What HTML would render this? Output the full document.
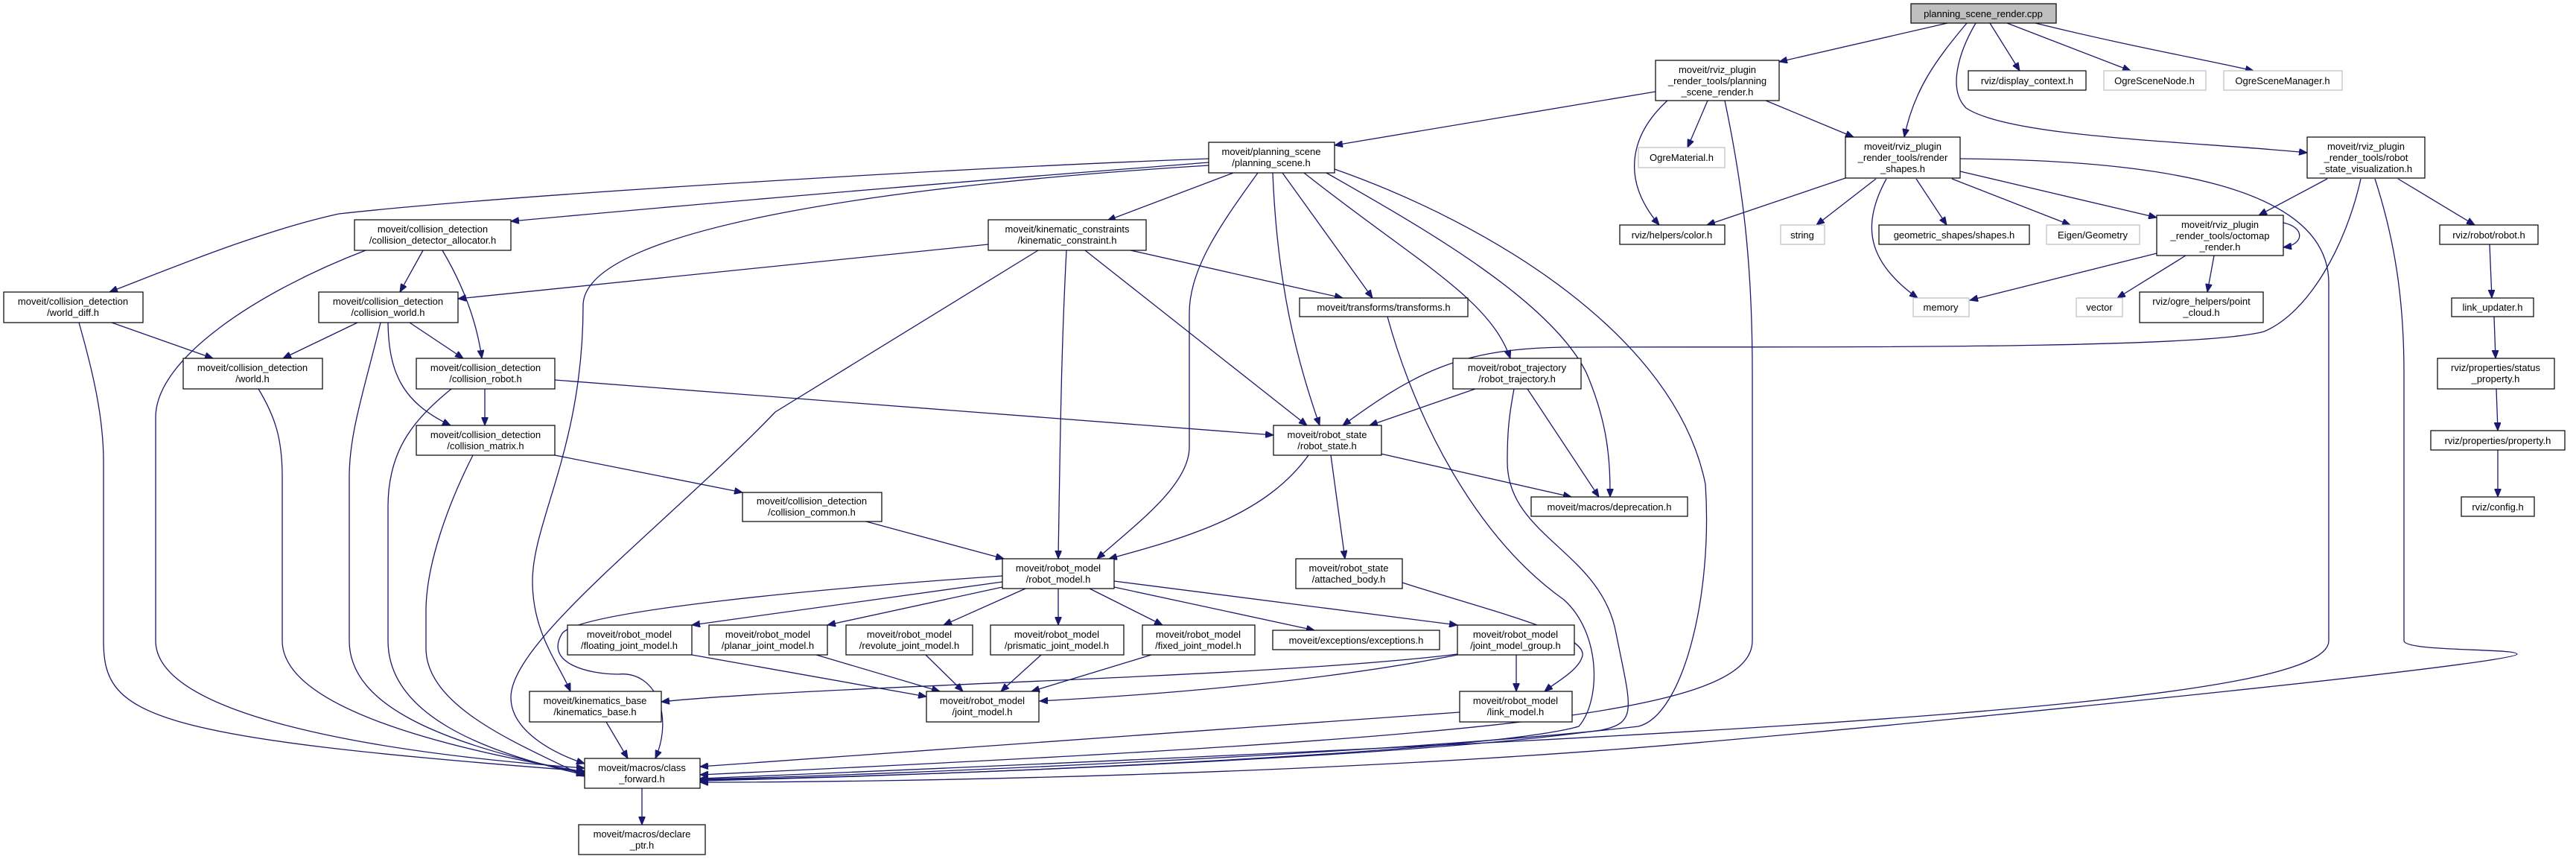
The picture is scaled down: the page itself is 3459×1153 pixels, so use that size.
<!DOCTYPE html>
<html><head><meta charset="utf-8"><style>
html,body{margin:0;padding:0;background:#fff;}
svg{display:block}
text{font-family:"Liberation Sans",sans-serif;font-size:13px;fill:#000;text-anchor:middle}
.n{fill:#fff;stroke:#000;stroke-width:1.2}
.g{fill:#fff;stroke:#bfbfbf;stroke-width:1.2}
.e{fill:none;stroke:#191970;stroke-width:1.3}
</style></head><body>
<svg width="3459" height="1153" viewBox="0 0 3459 1153" xmlns="http://www.w3.org/2000/svg">
<defs><marker id="a" markerUnits="userSpaceOnUse" markerWidth="12" markerHeight="9" refX="11" refY="4.5" orient="auto"><path d="M0,0 L11,4.5 L0,9 z" fill="#191970" stroke="#191970"/></marker></defs>
<g class="e" marker-end="url(#a)">
<path d="M2615,31 L2389,83"/>
<path d="M2641,31 C2600,80 2570,120 2557,184"/>
<path d="M2672,31 L2712,95"/>
<path d="M2695,31 L2861,95"/>
<path d="M2733,31 C2850,60 2960,80 3026,95"/>
<path d="M2653,31 C2630,70 2615,120 2640,145 C2700,185 2950,190 3098,205"/>
<path d="M2223,123 L1792,195"/>
<path d="M2293,135 L2266,198"/>
<path d="M2239,135 C2190,180 2175,240 2228,302"/>
<path d="M2371,135 L2489,184"/>
<path d="M2316,135 C2340,250 2353,350 2353,500 L2353,860 C2353,960 2000,990 940,1040"/>
<path d="M2478,239 L2292,302"/>
<path d="M2519,240 L2439,302"/>
<path d="M2533,240 C2500,300 2505,350 2575,400"/>
<path d="M2573,240 L2614,302"/>
<path d="M2621,240 L2780,302"/>
<path d="M2632,230 L2896,292"/>
<path d="M2632,213 C2900,215 3127,250 3127,380 L3127,860 C3127,940 2500,980 940,1045"/>
<path d="M3125,240 L3033,289"/>
<path d="M3170,240 C3150,330 3100,420 3040,445 C2950,470 2400,465 2100,466 C1960,468 1900,500 1803,571"/>
<path d="M3220,240 L3323,302"/>
<path d="M3189,240 C3215,320 3228,400 3228,500 L3228,860 C3228,875 3380,870 3380,878 C3380,890 2700,960 2300,995 C1800,1040 1200,1050 940,1050"/>
<path d="M3066,299 C3095,305 3095,328 3066,332"/>
<path d="M2896,340 L2645,403"/>
<path d="M2935,343 L2843,400"/>
<path d="M2973,343 L2964,392"/>
<path d="M3343,328 L3346,400"/>
<path d="M3349,425 L3351,481"/>
<path d="M3352,522 L3354,578"/>
<path d="M3354,604 L3354,667"/>
<path d="M1623,218 C1450,232 1200,250 686,297"/>
<path d="M1623,213 C1300,225 700,260 455,287 C350,310 230,360 147,392"/>
<path d="M1623,222 C1250,245 783,300 783,410 C783,600 715,700 715,780 C715,850 750,890 766,928"/>
<path d="M1656,232 L1487,296"/>
<path d="M1689,232 C1640,300 1597,360 1597,420 L1597,600 C1597,650 1530,700 1473,750"/>
<path d="M1709,232 C1715,380 1740,480 1772,571"/>
<path d="M1722,232 L1843,400"/>
<path d="M1751,232 C1900,350 2000,400 2028,481"/>
<path d="M1781,232 C1900,300 2080,400 2130,500 C2160,570 2162,620 2162,667"/>
<path d="M1792,227 C2000,300 2250,450 2290,650 C2300,800 2260,960 2200,975 C1900,1010 1200,1040 940,1046"/>
<path d="M568,336 L537,392"/>
<path d="M594,336 C620,380 640,430 647,481"/>
<path d="M491,336 C350,390 209,480 209,560 L209,860 C209,960 500,1010 785,1031"/>
<path d="M150,433 L286,481"/>
<path d="M106,433 C125,500 139,560 139,620 L139,860 C139,960 190,990 785,1035"/>
<path d="M480,433 L380,481"/>
<path d="M550,433 L622,481"/>
<path d="M521,433 C522,500 540,540 605,571"/>
<path d="M511,433 C490,520 469,580 469,640 L469,860 C469,950 600,1000 785,1038"/>
<path d="M347,522 C370,560 379,590 379,640 L379,860 C379,950 600,1005 785,1036"/>
<path d="M651,522 L651,571"/>
<path d="M745,510 L1710,584"/>
<path d="M606,522 C560,560 521,600 521,680 L521,860 C521,960 650,1010 785,1040"/>
<path d="M745,611 L997,661"/>
<path d="M635,611 C600,680 572,760 572,820 L572,870 C572,950 700,1000 785,1042"/>
<path d="M1163,700 L1348,750"/>
<path d="M1327,328 L615,401"/>
<path d="M1518,336 L1803,400"/>
<path d="M1457,336 L1755,571"/>
<path d="M1432,336 C1426,450 1424,550 1421,750"/>
<path d="M1394,336 L1041,553 C900,700 686,860 686,936 C686,980 740,1010 785,1025"/>
<path d="M1863,425 C1900,560 1980,720 2100,805 C2150,850 2150,940 2120,975 C2000,1010 1300,1040 940,1048"/>
<path d="M1981,522 L1839,571"/>
<path d="M2051,522 L2147,667"/>
<path d="M2033,522 C2026,560 2024,580 2024,620 C2024,720 2150,740 2170,850 C2190,950 2200,970 2150,980 C1900,1015 1300,1040 940,1047"/>
<path d="M1757,611 C1700,690 1600,720 1489,750"/>
<path d="M1787,611 L1806,750"/>
<path d="M1854,609 L2110,667"/>
<path d="M1883,782 C2000,820 2130,850 2125,880 C2120,900 2090,915 2074,928"/>
<path d="M1346,773 C1100,790 780,820 755,850 C730,890 790,905 830,905 C880,900 905,960 880,1018"/>
<path d="M1346,781 L929,839"/>
<path d="M1346,788 L1111,839"/>
<path d="M1377,790 L1267,839"/>
<path d="M1421,790 L1421,839"/>
<path d="M1463,790 L1561,839"/>
<path d="M1496,788 L1765,846"/>
<path d="M1496,780 L1957,839"/>
<path d="M929,879 L1244,935"/>
<path d="M1096,879 L1262,928"/>
<path d="M1243,879 L1293,928"/>
<path d="M1398,879 L1344,928"/>
<path d="M1546,879 L1385,928"/>
<path d="M1957,879 C1800,910 1600,930 1396,941"/>
<path d="M1957,878 C1700,910 1100,920 888,942"/>
<path d="M2036,879 L2036,928"/>
<path d="M1960,956 L940,1029"/>
<path d="M814,969 L843,1018"/>
<path d="M862,1058 L862,1107"/>
</g>
<rect x="2566" y="5" width="195" height="26" fill="#bfbfbf" stroke="#000" stroke-width="1.2"/><text x="2663" y="23">planning_scene_render.cpp</text>
<rect class="n" x="2223" y="81" width="166" height="54"/><text x="2306" y="98">moveit/rviz_plugin</text><text x="2306" y="113">_render_tools/planning</text><text x="2306" y="128">_scene_render.h</text>
<rect class="n" x="2478" y="184" width="154" height="55"/><text x="2555" y="201">moveit/rviz_plugin</text><text x="2555" y="216">_render_tools/render</text><text x="2555" y="231">_shapes.h</text>
<rect class="n" x="2643" y="95" width="158" height="26"/><text x="2722" y="113">rviz/display_context.h</text>
<rect class="g" x="2825" y="95" width="137" height="26"/><text x="2893" y="113">OgreSceneNode.h</text>
<rect class="g" x="2986" y="95" width="159" height="26"/><text x="3065" y="113">OgreSceneManager.h</text>
<rect class="n" x="3098" y="184" width="158" height="55"/><text x="3177" y="201">moveit/rviz_plugin</text><text x="3177" y="216">_render_tools/robot</text><text x="3177" y="231">_state_visualization.h</text>
<rect class="g" x="2200" y="198" width="116" height="27"/><text x="2258" y="216">OgreMaterial.h</text>
<rect class="n" x="2175" y="302" width="141" height="26"/><text x="2245" y="320">rviz/helpers/color.h</text>
<rect class="n" x="1623" y="191" width="169" height="41"/><text x="1707" y="208">moveit/planning_scene</text><text x="1707" y="223">/planning_scene.h</text>
<rect class="g" x="2391" y="302" width="59" height="26"/><text x="2420" y="320">string</text>
<rect class="n" x="2523" y="302" width="202" height="26"/><text x="2624" y="320">geometric_shapes/shapes.h</text>
<rect class="g" x="2748" y="302" width="125" height="26"/><text x="2810" y="320">Eigen/Geometry</text>
<rect class="n" x="2896" y="289" width="170" height="54"/><text x="2981" y="306">moveit/rviz_plugin</text><text x="2981" y="321">_render_tools/octomap</text><text x="2981" y="336">_render.h</text>
<rect class="n" x="3276" y="302" width="132" height="26"/><text x="3342" y="320">rviz/robot/robot.h</text>
<rect class="g" x="2569" y="400" width="75" height="25"/><text x="2606" y="417">memory</text>
<rect class="g" x="2788" y="400" width="62" height="25"/><text x="2819" y="417">vector</text>
<rect class="n" x="2873" y="392" width="166" height="41"/><text x="2956" y="409">rviz/ogre_helpers/point</text><text x="2956" y="424">_cloud.h</text>
<rect class="n" x="3292" y="400" width="110" height="25"/><text x="3347" y="417">link_updater.h</text>
<rect class="n" x="3273" y="481" width="157" height="41"/><text x="3351" y="498">rviz/properties/status</text><text x="3351" y="513">_property.h</text>
<rect class="n" x="3264" y="578" width="180" height="26"/><text x="3354" y="596">rviz/properties/property.h</text>
<rect class="n" x="3305" y="667" width="98" height="26"/><text x="3354" y="685">rviz/config.h</text>
<rect class="n" x="476" y="295" width="210" height="41"/><text x="581" y="312">moveit/collision_detection</text><text x="581" y="327">/collision_detector_allocator.h</text>
<rect class="n" x="5" y="392" width="187" height="41"/><text x="98" y="409">moveit/collision_detection</text><text x="98" y="424">/world_diff.h</text>
<rect class="n" x="428" y="392" width="187" height="41"/><text x="521" y="409">moveit/collision_detection</text><text x="521" y="424">/collision_world.h</text>
<rect class="n" x="246" y="481" width="187" height="41"/><text x="339" y="498">moveit/collision_detection</text><text x="339" y="513">/world.h</text>
<rect class="n" x="559" y="481" width="186" height="41"/><text x="652" y="498">moveit/collision_detection</text><text x="652" y="513">/collision_robot.h</text>
<rect class="n" x="559" y="571" width="186" height="40"/><text x="652" y="588">moveit/collision_detection</text><text x="652" y="603">/collision_matrix.h</text>
<rect class="n" x="1327" y="295" width="212" height="41"/><text x="1433" y="312">moveit/kinematic_constraints</text><text x="1433" y="327">/kinematic_constraint.h</text>
<rect class="n" x="1745" y="400" width="226" height="25"/><text x="1858" y="417">moveit/transforms/transforms.h</text>
<rect class="n" x="1951" y="481" width="172" height="41"/><text x="2037" y="498">moveit/robot_trajectory</text><text x="2037" y="513">/robot_trajectory.h</text>
<rect class="n" x="1710" y="571" width="145" height="40"/><text x="1782" y="588">moveit/robot_state</text><text x="1782" y="603">/robot_state.h</text>
<rect class="n" x="997" y="661" width="187" height="39"/><text x="1090" y="677">moveit/collision_detection</text><text x="1090" y="692">/collision_common.h</text>
<rect class="n" x="2056" y="667" width="210" height="26"/><text x="2161" y="685">moveit/macros/deprecation.h</text>
<rect class="n" x="1346" y="750" width="150" height="40"/><text x="1421" y="767">moveit/robot_model</text><text x="1421" y="782">/robot_model.h</text>
<rect class="n" x="1740" y="750" width="143" height="40"/><text x="1811" y="767">moveit/robot_state</text><text x="1811" y="782">/attached_body.h</text>
<rect class="n" x="762" y="839" width="167" height="40"/><text x="845" y="856">moveit/robot_model</text><text x="845" y="871">/floating_joint_model.h</text>
<rect class="n" x="952" y="839" width="159" height="40"/><text x="1031" y="856">moveit/robot_model</text><text x="1031" y="871">/planar_joint_model.h</text>
<rect class="n" x="1136" y="839" width="170" height="40"/><text x="1221" y="856">moveit/robot_model</text><text x="1221" y="871">/revolute_joint_model.h</text>
<rect class="n" x="1330" y="839" width="179" height="40"/><text x="1419" y="856">moveit/robot_model</text><text x="1419" y="871">/prismatic_joint_model.h</text>
<rect class="n" x="1534" y="839" width="151" height="40"/><text x="1609" y="856">moveit/robot_model</text><text x="1609" y="871">/fixed_joint_model.h</text>
<rect class="n" x="1709" y="846" width="224" height="26"/><text x="1821" y="864">moveit/exceptions/exceptions.h</text>
<rect class="n" x="1957" y="839" width="157" height="40"/><text x="2035" y="856">moveit/robot_model</text><text x="2035" y="871">/joint_model_group.h</text>
<rect class="n" x="1244" y="928" width="151" height="41"/><text x="1319" y="945">moveit/robot_model</text><text x="1319" y="960">/joint_model.h</text>
<rect class="n" x="1960" y="928" width="151" height="41"/><text x="2035" y="945">moveit/robot_model</text><text x="2035" y="960">/link_model.h</text>
<rect class="n" x="711" y="928" width="177" height="41"/><text x="799" y="945">moveit/kinematics_base</text><text x="799" y="960">/kinematics_base.h</text>
<rect class="n" x="785" y="1018" width="155" height="40"/><text x="862" y="1035">moveit/macros/class</text><text x="862" y="1050">_forward.h</text>
<rect class="n" x="777" y="1107" width="170" height="40"/><text x="862" y="1124">moveit/macros/declare</text><text x="862" y="1139">_ptr.h</text>
</svg>
</body></html>
